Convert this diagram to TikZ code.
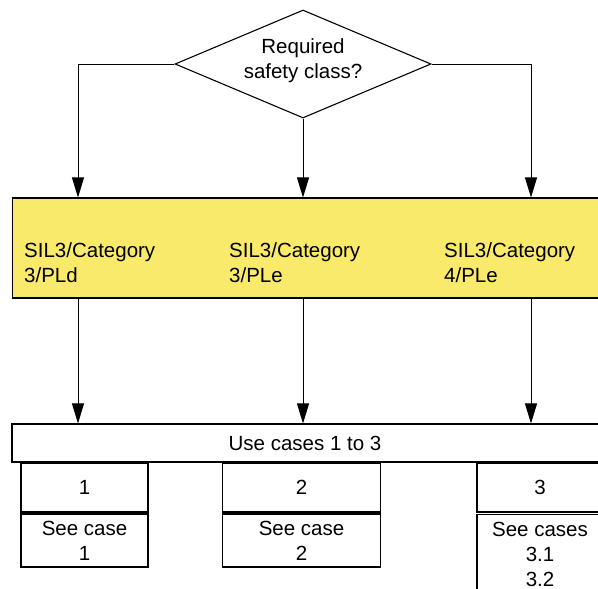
\documentclass[tikz,border=0pt]{standalone}
\usepackage{fontspec}
\setmainfont{Liberation Sans}
\usepackage{xcolor}
\usepackage{tikz}
\usetikzlibrary{positioning,shapes.geometric,arrows.meta}

\definecolor{classyellow}{RGB}{250,234,107}

\begin{document}
\begin{tikzpicture}[x=1pt,y=-1pt,
    every node/.style={font=\fontsize{20.5}{25}\selectfont},
    box/.style={draw,line width=1.1pt,inner sep=0pt,align=center},
    arr/.style={line width=0.9pt,-{Triangle[length=20pt,width=12pt]}}]
                \useasboundingbox (0,0) rectangle (598,589);
                \node[draw,line width=1.1pt,diamond,aspect=2.37,minimum width=256pt,minimum height=108pt,inner sep=0pt,text depth=10pt,align=center] (q) at (303,64) {Required\\safety class?};
                \node[box,fill=classyellow,minimum width=627pt,minimum height=100pt] (cls) at (326,248) {};
                \node[anchor=north west,inner sep=0pt,align=left] (sila) at (24,242) {SIL3/Category\\3/PLd};
                \node[anchor=north west,inner sep=0pt,align=left] (silb) at (229,242) {SIL3/Category\\3/PLe};
                \node[anchor=north west,inner sep=0pt,align=left] (silc) at (444,242) {SIL3/Category\\4/PLe};
                \node[box,minimum width=610pt,minimum height=38pt] (use) at (317,443) {};
                \node (usetxt) at (305,443) {Use cases 1 to 3};
                \node[box,minimum width=127pt,minimum height=49pt] (ca) at (84.5,487.5) {1};
                \node[box,minimum width=158pt,minimum height=49pt] (cb) at (301.5,487.5) {2};
                \node[box,minimum width=126pt,minimum height=49pt] (cc) at (540,487.5) {3};
                \node[box,minimum width=127pt,minimum height=53pt] (sa) at (84.5,540.5) {See case\\1};
                \node[box,minimum width=158pt,minimum height=53pt] (sb) at (301.5,540.5) {See case\\2};
                \node[box,minimum width=126pt,inner ysep=7.5pt,anchor=north] (sc) at (540,514) {See cases\\3.1\\3.2};
                % columns of the arrows
                \coordinate (xa) at (78,0);
                \coordinate (xb) at (303,0);
                \coordinate (xc) at (531,0);
                \draw[arr] (q.west) -| (xa |- cls.north);
                \draw[arr] (q.south) -- (xb |- cls.north);
                \draw[arr] (q.east) -| (xc |- cls.north);
                \draw[arr] (xa |- cls.south) -- (xa |- use.north);
                \draw[arr] (xb |- cls.south) -- (xb |- use.north);
                \draw[arr] (xc |- cls.south) -- (xc |- use.north);
            \end{tikzpicture}
\end{document}
